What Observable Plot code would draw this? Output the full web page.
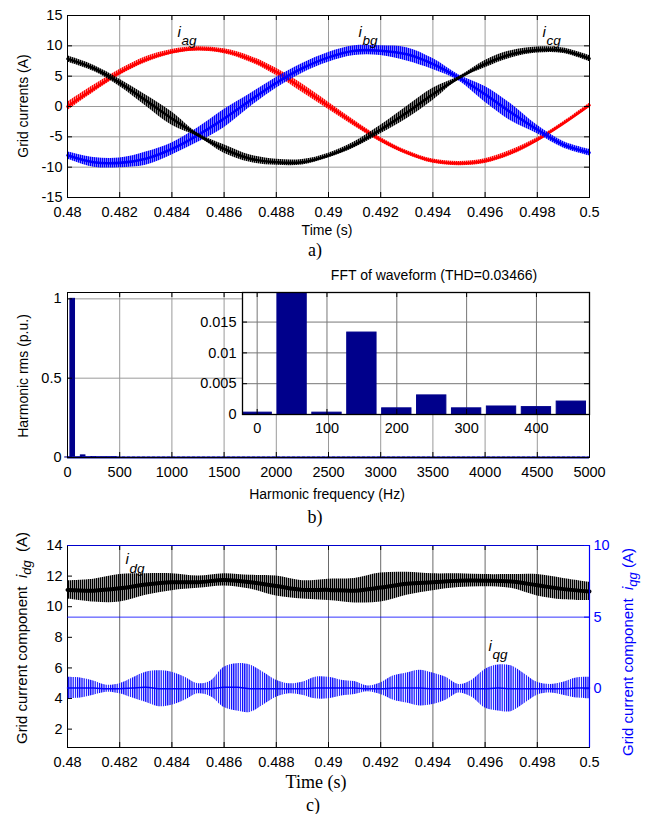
<!DOCTYPE html>
<html><head><meta charset="utf-8">
<script src="https://cdn.jsdelivr.net/npm/d3@7"></script>
<script src="https://cdn.jsdelivr.net/npm/@observablehq/plot@0.6"></script>
<style>
body{margin:0;background:#fff;}
#wrap{position:relative;width:649px;height:814px;overflow:hidden;font-family:"Liberation Sans",Arial,sans-serif;color:#000;}
#wrap svg{position:absolute;left:0;}
.t{position:absolute;white-space:nowrap;line-height:1;transform:translate(-50%,-50%);}
.sans{font-family:"Liberation Sans",Arial,sans-serif;font-size:14px;}
.big{font-size:15px;}
.serif{font-family:"Liberation Serif","Times New Roman",serif;font-size:18px;}
.rot{transform:translate(-50%,-50%) rotate(-90deg);}
.it{font-style:italic;}
.sub{font-style:italic;font-size:13px;position:relative;top:4px;}
</style></head><body><div id="wrap"></div>
<script>
// ---------- data: panel a (grid currents) ----------
const timeA = [0.480,0.481,0.482,0.483,0.484,0.485,0.486,0.487,0.488,0.489,0.490,0.491,0.492,0.493,0.494,0.495,0.496,0.497,0.498,0.499,0.500];
const iaCenter = [0.0,2.9,5.6,7.7,9.0,9.5,9.1,7.8,5.7,3.0,0.1,-2.8,-5.5,-7.6,-9.0,-9.4,-9.0,-7.6,-5.5,-2.8,0.2];
const iaRipple = [0.7,0.6,0.5,0.5,0.4,0.35,0.4,0.5,0.6,0.7,0.6,0.5,0.4,0.35,0.35,0.35,0.4,0.45,0.35,0.3,0.35];
const ibCenter = [-8.05,-9.2,-9.3,-8.6,-7.0,-4.7,-2.0,1.0,3.9,6.3,8.1,9.2,9.2,8.6,7.0,4.7,2.0,-1.0,-3.8,-6.3,-7.6];
const ibRipple = [0.6,0.8,0.8,1.1,1.0,1.2,1.5,1.1,0.9,0.8,0.8,0.8,0.8,1.1,0.9,0.5,1.3,1.4,0.7,0.55,0.55];
const icCenter = [7.85,6.3,3.9,1.0,-2.0,-4.7,-7.0,-8.6,-9.2,-9.2,-8.1,-6.3,-3.8,-1.0,2.0,4.7,7.0,8.6,9.3,9.2,7.9];
const icRipple = [0.5,0.5,0.6,0.9,1.1,0.3,0.7,0.6,0.5,0.45,0.4,0.5,0.7,1.0,1.0,0.25,0.6,0.6,0.5,0.45,0.5];
const timeTicks = [0.48,0.482,0.484,0.486,0.488,0.49,0.492,0.494,0.496,0.498,0.5];
const currentTicks = [-15,-10,-5,0,5,10,15];
const currentGrid = [-10,-5,0,5,10];
const labelA = [{t:0.48421, v:12.3, name:"ag"},{t:0.49115, v:12.3, name:"bg"},{t:0.4982, v:12.3, name:"cg"}];

// ---------- data: panel b (FFT) ----------
const fftFreq = [0,50,100,150,200,250,300,350,400,450];
const fftMag  = [0.0003,1,0.0003,0.0133,0.001,0.0031,0.001,0.0013,0.0012,0.0021];
const fftFloor = [0.003];
const freqTicks = [0,500,1000,1500,2000,2500,3000,3500,4000,4500,5000];
const magTicks = [0,0.5,1];
const insetFreqTicks = [0,100,200,300,400];
const insetMagTicks = [0,0.005,0.01,0.015];

// ---------- data: panel c (dq components) ----------
const timeC = timeA;
const idgCenter = [11.1,11.05,11.2,11.45,11.6,11.6,11.75,11.6,11.35,11.1,11.1,11.05,11.25,11.5,11.6,11.7,11.7,11.65,11.4,11.15,11.0];
const idgRipple = [0.6,0.75,0.9,0.7,0.55,0.4,0.4,0.45,0.65,0.6,0.7,0.8,0.95,0.75,0.55,0.45,0.4,0.45,0.7,0.7,0.6];
const timeQ = [0.4800,0.4805,0.4810,0.4815,0.4820,0.4825,0.4830,0.4835,0.4840,0.4845,0.4850,0.4855,0.4860,0.4865,0.4870,0.4875,0.4880,0.4885,0.4890,0.4895,0.4900,0.4905,0.4910,0.4915,0.4920,0.4925,0.4930,0.4935,0.4940,0.4945,0.4950,0.4955,0.4960,0.4965,0.4970,0.4975,0.4980,0.4985,0.4990,0.4995,0.5000];
const iqgCenter = [0.05,0.05,0.05,0.0,0.0,0.05,0.1,0.0,0.0,0.0,0.0,0.0,0.1,0.1,0.0,0.0,0.0,0.0,0.0,0.05,0.05,0.05,0.05,0.0,0.0,0.05,0.05,0.05,0.0,0.0,0.0,0.0,0.0,0.05,0.0,0.0,0.0,0.0,0.0,0.05,0.05];
const iqgRipple = [0.75,0.7,0.5,0.25,0.35,0.7,1.05,1.25,1.15,0.8,0.35,0.55,1.4,1.65,1.65,1.15,0.6,0.35,0.45,0.75,0.75,0.55,0.45,0.2,0.4,0.85,1.05,1.25,1.1,0.8,0.3,0.6,1.35,1.6,1.6,1.05,0.45,0.3,0.45,0.7,0.75];
const idTicks = [2,4,6,8,10,12,14];
const iqTicks = [0,5,10];
const iqGrid = [5,10];
const labelD = [{t:0.48222, v:13.1, name:"dg"}];
const labelQ = [{t:0.49613, v:3.0, name:"qg"}];

// ---------- helpers ----------
const wrap = document.getElementById("wrap");
const font = {fontFamily:"Liberation Sans, Arial, sans-serif", fontSize:"14.5px", background:"transparent", overflow:"visible"};
const NS = "http://www.w3.org/2000/svg";
function addHatch(svg, id, color, w, bar){
  let defs = svg.querySelector("defs");
  if (!defs){ defs = document.createElementNS(NS, "defs"); svg.insertBefore(defs, svg.firstChild); }
  const p = document.createElementNS(NS, "pattern");
  p.setAttribute("id", id); p.setAttribute("patternUnits", "userSpaceOnUse");
  p.setAttribute("width", w); p.setAttribute("height", 6);
  const r = document.createElementNS(NS, "rect");
  r.setAttribute("x", 0); r.setAttribute("y", 0); r.setAttribute("width", bar); r.setAttribute("height", 6);
  r.setAttribute("fill", color);
  p.appendChild(r); defs.appendChild(p);
}
function place(svg, top){ svg.style.top = top + "px"; wrap.appendChild(svg); }
function band(time, c, r){ return time.map((t,i)=>({t, c:c[i], lo:c[i]-r[i], hi:c[i]+r[i]})); }
function inTicks(xt, yt, fw, fh, opts = {}){
  const len = 5, stroke = opts.stroke || "black";
  const m = [];
  if (opts.bottom !== false) m.push(Plot.ruleX(xt, {insetTop: fh-len, stroke}));
  if (opts.top !== false) m.push(Plot.ruleX(xt, {insetBottom: fh-len, stroke}));
  if (yt && opts.left !== false) m.push(Plot.ruleY(yt, {insetRight: fw-len, stroke}));
  if (yt && opts.right !== false) m.push(Plot.ruleY(yt, {insetLeft: fw-len, stroke}));
  return m;
}
function iLabel(data){
  return [
    Plot.text(data, {x:"t", y:"v", text: d => "i", textAnchor:"start", fontStyle:"italic", fontSize:15, fill:"black"}),
    Plot.text(data, {x:"t", y:"v", text:"name", textAnchor:"start", dx:4, dy:9, fontStyle:"italic", fontSize:13.5, fill:"black"})
  ];
}

// ---------- panel a ----------
const phases = [
  {c:iaCenter, r:iaRipple, color:"#ff0000", id:"hatchRed"},
  {c:ibCenter, r:ibRipple, color:"#0000ff", id:"hatchBlue"},
  {c:icCenter, r:icRipple, color:"#000000", id:"hatchBlack"}
];
const plotA = Plot.plot({
  width:649, height:225, marginLeft:67, marginRight:60, marginTop:15, marginBottom:28,
  style: font,
  x:{domain:[0.48,0.5]}, y:{domain:[-15,15]},
  marks:[
    Plot.gridX(timeTicks, {stroke:"#9a9a9a", strokeOpacity:1}),
    Plot.gridY(currentGrid, {stroke:"#9a9a9a", strokeOpacity:1}),
    ...phases.flatMap(p => {
      const rows = band(timeA, p.c, p.r);
      return [
        Plot.areaY(rows, {x:"t", y1:"lo", y2:"hi", fill:`url(#${p.id})`, curve:"catmull-rom"}),
        Plot.lineY(rows, {x:"t", y:"c", stroke:p.color, strokeWidth:2.6, curve:"catmull-rom"})
      ];
    }),
    ...iLabel(labelA),
    Plot.frame({stroke:"black"}),
    ...inTicks(timeTicks, currentTicks, 522, 182),
    Plot.axisX({ticks:timeTicks, tickSize:0, tickPadding:9, tickFormat:d=>String(d), label:null}),
    Plot.axisY({ticks:currentTicks, tickSize:0, tickPadding:5, tickFormat:d=>String(d), label:null})
  ]
});
phases.forEach(p => addHatch(plotA, p.id, p.color, 2, 1.5));
place(plotA, 0);

// ---------- panel b ----------
const fftRows = fftFreq.map((f,i)=>({f, m:fftMag[i]}));
const navy = "#00008b";
const plotB = Plot.plot({
  width:649, height:225, marginLeft:67, marginRight:60, marginTop:32, marginBottom:28,
  style: font,
  x:{domain:[0,5000]}, y:{domain:[0,1.04]},
  marks:[
    Plot.gridX(freqTicks, {stroke:"#9a9a9a", strokeOpacity:1}),
    Plot.gridY(magTicks, {stroke:"#9a9a9a", strokeOpacity:1}),
    Plot.rectY(fftRows, {x1:d=>d.f-22, x2:d=>d.f+22, y:"m", fill:navy, stroke:navy, strokeWidth:1}),
    Plot.ruleY(fftFloor, {stroke:"#3030ff", strokeWidth:1, strokeDasharray:"3,2"}),
    Plot.ruleY([0], {stroke:navy, strokeWidth:2}),
    Plot.frame({stroke:"black"}),
    ...inTicks(freqTicks, magTicks, 522, 165),
    Plot.axisX({ticks:freqTicks, tickSize:0, tickPadding:9, tickFormat:d=>String(d), label:null}),
    Plot.axisY({ticks:magTicks, tickSize:0, tickPadding:6, tickFormat:d=>String(d), label:null})
  ]
});
place(plotB, 260);

const plotInset = Plot.plot({
  width:649, height:176, marginLeft:242, marginRight:60, marginTop:32, marginBottom:22,
  style: font,
  x:{domain:[-21,476]}, y:{domain:[0,0.0198]},
  marks:[
    Plot.frame({fill:"white", stroke:"none"}),
    Plot.gridX(insetFreqTicks, {stroke:"#777", strokeOpacity:1}),
    Plot.gridY(insetMagTicks.slice(1), {stroke:"#777", strokeOpacity:1}),
    Plot.rectY(fftRows, {x1:d=>d.f-21, x2:d=>d.f+21, y:"m", fill:navy, stroke:navy, strokeWidth:1, clip:true}),
    Plot.frame({stroke:"black", strokeWidth:1.3}),
    ...inTicks(insetFreqTicks, insetMagTicks, 347, 122),
    Plot.axisX({ticks:insetFreqTicks, tickSize:0, tickPadding:8, tickFormat:d=>String(d), label:null}),
    Plot.axisY({ticks:insetMagTicks, tickSize:0, tickPadding:6, tickFormat:d=>String(d), label:null})
  ]
});
place(plotInset, 260);

// ---------- panel c ----------
const idgRows = band(timeC, idgCenter, idgRipple);
const iqgRows = band(timeQ, iqgCenter, iqgRipple);
const blue = "#0000ff";
const plotC = Plot.plot({
  width:649, height:255, marginLeft:67, marginRight:60, marginTop:25, marginBottom:28,
  style: font,
  x:{domain:[0.48,0.5]}, y:{domain:[0.8,14]},
  marks:[
    Plot.gridX(timeTicks, {stroke:"#6a6a6a", strokeOpacity:1}),
    Plot.areaY(idgRows, {x:"t", y1:"lo", y2:"hi", fill:"url(#hatchBlackC)", curve:"catmull-rom"}),
    Plot.lineY(idgRows, {x:"t", y:"c", stroke:"black", strokeWidth:4, curve:"catmull-rom"}),
    ...iLabel(labelD),
    Plot.frame({stroke:"black"}),
    ...inTicks(timeTicks, idTicks, 522, 202, {right:false}),
    Plot.axisX({ticks:timeTicks, tickSize:0, tickPadding:9, tickFormat:d=>String(d), label:null}),
    Plot.axisY({ticks:idTicks, tickSize:0, tickPadding:5, tickFormat:d=>String(d), label:null})
  ]
});
addHatch(plotC, "hatchBlackC", "#000", 2, 1.4);
place(plotC, 520);

const plotC2 = Plot.plot({
  width:649, height:255, marginLeft:67, marginRight:60, marginTop:25, marginBottom:28,
  style: {...font, color: blue},
  x:{domain:[0.48,0.5], axis:null}, y:{domain:[-4.1,10]},
  marks:[
    Plot.gridY(iqGrid, {stroke:blue, strokeOpacity:0.8}),
    Plot.areaY(iqgRows, {x:"t", y1:"lo", y2:"hi", fill:"url(#hatchBlueC)", curve:"catmull-rom"}),
    Plot.lineY(iqgRows, {x:"t", y:"c", stroke:blue, strokeWidth:1.5, curve:"catmull-rom"}),
    ...iLabel(labelQ),
    Plot.ruleX([0.5], {stroke:blue, strokeWidth:1.2}),
    Plot.ruleY(iqTicks, {insetLeft:517, stroke:blue}),
    Plot.axisY({anchor:"right", ticks:iqTicks, tickSize:0, tickPadding:4, tickFormat:d=>String(d), label:null, fill:blue})
  ]
});
addHatch(plotC2, "hatchBlueC", blue, 2.2, 1.2);
place(plotC2, 520);

// ---------- HTML text: axis titles & captions ----------
const texts = [
  {x:23, y:106, cls:"sans rot", html:"Grid currents (A)"},
  {x:327, y:230, cls:"sans", html:"Time (s)"},
  {x:315, y:250, cls:"serif", html:"a)"},
  {x:434, y:275, cls:"sans", html:"FFT of waveform (THD=0.03466)"},
  {x:23, y:376, cls:"sans rot", html:"Harmonic rms (p.u.)"},
  {x:327, y:494, cls:"sans", html:"Harmonic frequency (Hz)"},
  {x:315, y:517, cls:"serif", html:"b)"},
  {x:21, y:638, cls:"sans big rot", html:"Grid current component&nbsp;&nbsp;<span class='it'>i</span><span class='sub'>dg</span>&nbsp;&nbsp;(A)"},
  {x:627, y:652, cls:"sans big rot", html:"<span style='color:#0000ff'>Grid current component&nbsp;&nbsp;<span class='it'>i</span><span class='sub'>qg</span>&nbsp;(A)</span>"},
  {x:316, y:782, cls:"serif", html:"Time (s)"},
  {x:313, y:805, cls:"serif", html:"c)"}
];
for (const t of texts){
  const d = document.createElement("div");
  d.className = "t " + t.cls;
  d.style.left = t.x + "px"; d.style.top = t.y + "px";
  d.innerHTML = t.html;
  wrap.appendChild(d);
}
</script></body></html>
